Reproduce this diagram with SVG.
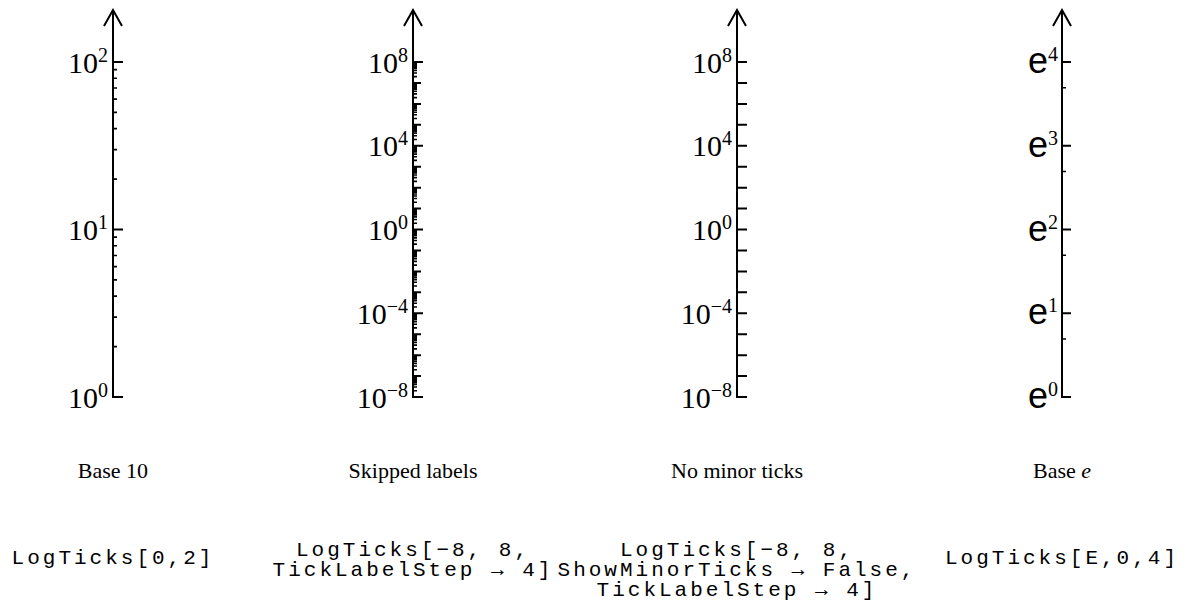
<svg xmlns="http://www.w3.org/2000/svg" xmlns:xlink="http://www.w3.org/1999/xlink" width="1188" height="604" viewBox="0 0 1188 604">
<style>
.ax{fill:none;stroke:#000;stroke-width:2;stroke-linejoin:miter}
.mj{fill:none;stroke:#000;stroke-width:2}
.mn{fill:none;stroke:#000;stroke-width:1.6}
.lab{font-family:"Liberation Serif","Times New Roman",serif;font-size:30px;fill:#000}
.sup{font-size:20px}
.elab{font-family:"Liberation Sans",Arial,sans-serif;font-size:36px;fill:#000}
.esup{font-family:"Liberation Serif","Times New Roman",serif;font-size:20px}
.cap{font-family:"Liberation Serif","Times New Roman",serif;font-size:22px;fill:#000;text-anchor:middle}
.code{font-family:"Liberation Mono","Courier New",monospace;font-size:21px;letter-spacing:3px;fill:#000;text-anchor:middle}
</style>
<defs>
<path id="m10" class="mn" d="M0 -50.42h4M0 -79.92h4M0 -100.85h4M0 -117.08h4M0 -130.34h4M0 -141.55h4M0 -151.27h4M0 -159.84h4"/>
<path id="m16" class="mn" d="M0 -6.30h4M0 -9.99h4M0 -12.61h4M0 -14.63h4M0 -16.29h4M0 -17.69h4M0 -18.91h4M0 -19.98h4"/>
</defs>

<g id="axis-base10">
<path class="ax" d="M113 10V397H123"/>
<polyline class="ax" points="104,26 113,10 122,26"/>
<path class="mj" d="M113 229.5h10M113 62h10"/>
<use xlink:href="#m10" x="113" y="397"/>
<use xlink:href="#m10" x="113" y="229.5"/>
<text class="lab" x="108" y="72.5" text-anchor="end">10<tspan class="sup" dy="-11">2</tspan></text>
<text class="lab" x="108" y="240" text-anchor="end">10<tspan class="sup" dy="-11">1</tspan></text>
<text class="lab" x="108" y="407.5" text-anchor="end">10<tspan class="sup" dy="-11">0</tspan></text>
<text class="cap" x="113" y="478">Base 10</text>
<text class="code" x="113" y="564">LogTicks[0,2]</text>
</g>

<g id="axis-skipped">
<path class="ax" d="M413 10V397H423"/>
<polyline class="ax" points="404,26 413,10 422,26"/>
<path class="mj" d="M413 62h10M413 145.75h10M413 229.5h10M413 313.25h10"/>
<path class="mj" d="M413 376.06h8M413 355.13h8M413 334.19h8M413 292.31h8M413 271.38h8M413 250.44h8M413 208.56h8M413 187.63h8M413 166.69h8M413 124.81h8M413 103.88h8M413 82.94h8"/>
<use xlink:href="#m16" x="413" y="397"/>
<use xlink:href="#m16" x="413" y="376.06"/>
<use xlink:href="#m16" x="413" y="355.13"/>
<use xlink:href="#m16" x="413" y="334.19"/>
<use xlink:href="#m16" x="413" y="313.25"/>
<use xlink:href="#m16" x="413" y="292.31"/>
<use xlink:href="#m16" x="413" y="271.38"/>
<use xlink:href="#m16" x="413" y="250.44"/>
<use xlink:href="#m16" x="413" y="229.5"/>
<use xlink:href="#m16" x="413" y="208.56"/>
<use xlink:href="#m16" x="413" y="187.63"/>
<use xlink:href="#m16" x="413" y="166.69"/>
<use xlink:href="#m16" x="413" y="145.75"/>
<use xlink:href="#m16" x="413" y="124.81"/>
<use xlink:href="#m16" x="413" y="103.88"/>
<use xlink:href="#m16" x="413" y="82.94"/>
<text class="lab" x="408" y="72.5" text-anchor="end">10<tspan class="sup" dy="-11">8</tspan></text>
<text class="lab" x="408" y="156.25" text-anchor="end">10<tspan class="sup" dy="-11">4</tspan></text>
<text class="lab" x="408" y="240" text-anchor="end">10<tspan class="sup" dy="-11">0</tspan></text>
<text class="lab" x="408" y="323.75" text-anchor="end">10<tspan class="sup" dy="-11">−4</tspan></text>
<text class="lab" x="408" y="407.5" text-anchor="end">10<tspan class="sup" dy="-11">−8</tspan></text>
<text class="cap" x="413" y="478">Skipped labels</text>
<text class="code" x="413" y="556">LogTicks[−8, 8,</text>
<text class="code" x="413" y="576">TickLabelStep → 4]</text>
</g>

<g id="axis-nominor">
<path class="ax" d="M737 10V397H747"/>
<polyline class="ax" points="728,26 737,10 746,26"/>
<path class="mj" d="M737 376.06h10M737 355.13h10M737 334.19h10M737 313.25h10M737 292.31h10M737 271.38h10M737 250.44h10M737 229.5h10M737 208.56h10M737 187.63h10M737 166.69h10M737 145.75h10M737 124.81h10M737 103.88h10M737 82.94h10M737 62h10"/>
<text class="lab" x="732" y="72.5" text-anchor="end">10<tspan class="sup" dy="-11">8</tspan></text>
<text class="lab" x="732" y="156.25" text-anchor="end">10<tspan class="sup" dy="-11">4</tspan></text>
<text class="lab" x="732" y="240" text-anchor="end">10<tspan class="sup" dy="-11">0</tspan></text>
<text class="lab" x="732" y="323.75" text-anchor="end">10<tspan class="sup" dy="-11">−4</tspan></text>
<text class="lab" x="732" y="407.5" text-anchor="end">10<tspan class="sup" dy="-11">−8</tspan></text>
<text class="cap" x="737" y="478">No minor ticks</text>
<text class="code" x="737" y="556">LogTicks[−8, 8,</text>
<text class="code" x="737" y="576">ShowMinorTicks → False,</text>
<text class="code" x="737" y="596">TickLabelStep → 4]</text>
</g>

<g id="axis-base-e">
<path class="ax" d="M1062 10V397H1071"/>
<polyline class="ax" points="1053,26 1062,10 1071,26"/>
<path class="mj" d="M1062 313.25h9M1062 229.5h9M1062 145.75h9M1062 62h9"/>
<path class="mn" d="M1062 338.95h4M1062 255.2h4M1062 171.45h4M1062 87.7h4"/>
<text class="elab" x="1058" y="73" text-anchor="end">e<tspan class="esup" dy="-12">4</tspan></text>
<text class="elab" x="1058" y="156.75" text-anchor="end">e<tspan class="esup" dy="-12">3</tspan></text>
<text class="elab" x="1058" y="240.5" text-anchor="end">e<tspan class="esup" dy="-12">2</tspan></text>
<text class="elab" x="1058" y="324.25" text-anchor="end">e<tspan class="esup" dy="-12">1</tspan></text>
<text class="elab" x="1058" y="408" text-anchor="end">e<tspan class="esup" dy="-12">0</tspan></text>
<text class="cap" x="1062" y="478">Base <tspan font-style="italic">e</tspan></text>
<text class="code" x="1062" y="564">LogTicks[E,0,4]</text>
</g>
<g id="connectors"/>
</svg>
